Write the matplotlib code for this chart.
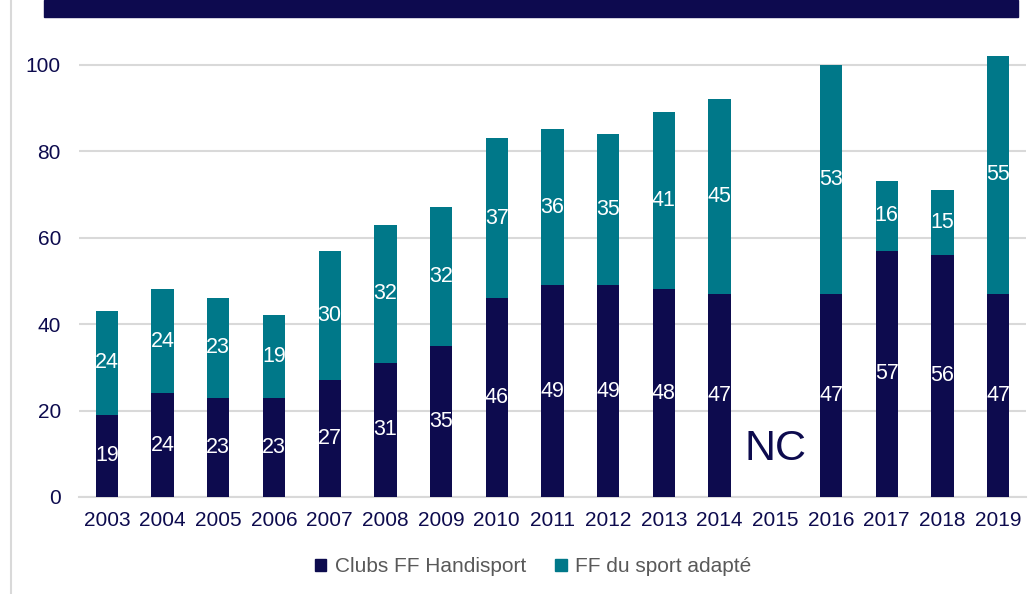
import numpy as np
import matplotlib.pyplot as plt
from matplotlib.patches import Rectangle
from matplotlib.lines import Line2D

years = ['2003', '2004', '2005', '2006', '2007', '2008', '2009', '2010', '2011',
         '2012', '2013', '2014', '2015', '2016', '2017', '2018', '2019']
handisport = [19, 24, 23, 23, 27, 31, 35, 46, 49, 49, 48, 47, np.nan, 47, 57, 56, 47]
adapte = [24, 24, 23, 19, 30, 32, 32, 37, 36, 35, 41, 45, np.nan, 53, 16, 15, 55]

navy = '#0d0b4e'
teal = '#007889'
plt.rcParams['font.family'] = ['Liberation Sans', 'DejaVu Sans']

fig = plt.figure(figsize=(10.34, 5.94), dpi=100)
ax = fig.add_axes([79 / 1034, 1 - 497 / 594, (1026 - 79) / 1034, (497 - 30) / 594])

x = np.arange(len(years))
h = np.array(handisport, dtype=float)
a = np.array(adapte, dtype=float)
ax.bar(x, h, width=0.4, color=navy, zorder=3)
ax.bar(x, a, bottom=h, width=0.4, color=teal, zorder=3)

for i in range(len(years)):
    if np.isnan(h[i]):
        continue
    ax.text(x[i], h[i] / 2, f'{int(h[i])}', ha='center', va='center',
            color='white', fontsize=15.5, zorder=4)
    ax.text(x[i], h[i] + a[i] / 2, f'{int(a[i])}', ha='center', va='center',
            color='white', fontsize=15.5, zorder=4)

ax.text(12, 11, 'NC', ha='center', va='center', color=navy, fontsize=31)

ax.set_xlim(-0.5, len(years) - 0.5)
ax.set_ylim(0, 108)
ax.set_yticks(range(0, 101, 20))
ax.set_xticks(x)
ax.set_xticklabels(years)
ax.yaxis.grid(True, color='#d9d9d9', linewidth=1.5, zorder=0)
for s in ['top', 'right', 'left']:
    ax.spines[s].set_visible(False)
ax.spines['bottom'].set_color('#d9d9d9')
ax.spines['bottom'].set_linewidth(1.5)
ax.tick_params(axis='both', length=0, labelsize=15, labelcolor=navy)
ax.tick_params(axis='y', pad=13)
ax.tick_params(axis='x', pad=10)

handles = [Rectangle((0, 0), 1, 1, color=navy), Rectangle((0, 0), 1, 1, color=teal)]
fig.legend(handles, ['Clubs FF Handisport', 'FF du sport adapté'], loc='center',
           bbox_to_anchor=(533 / 1034, 1 - 567 / 594), ncol=2, frameon=False,
           fontsize=15, labelcolor='#595959', handlelength=0.55, handleheight=0.55,
           handletextpad=0.4, columnspacing=1.4)

# header band and left border
fig.add_artist(Rectangle((44 / 1034, 1 - 17 / 594), (1018 - 44) / 1034, 17 / 594,
                         transform=fig.transFigure, color='#0d0a4f'))
fig.add_artist(Line2D([11 / 1034, 11 / 1034], [0, 1], transform=fig.transFigure,
                      color='#d9d9d9', linewidth=1.5))

fig.savefig('out.png', dpi=100)
